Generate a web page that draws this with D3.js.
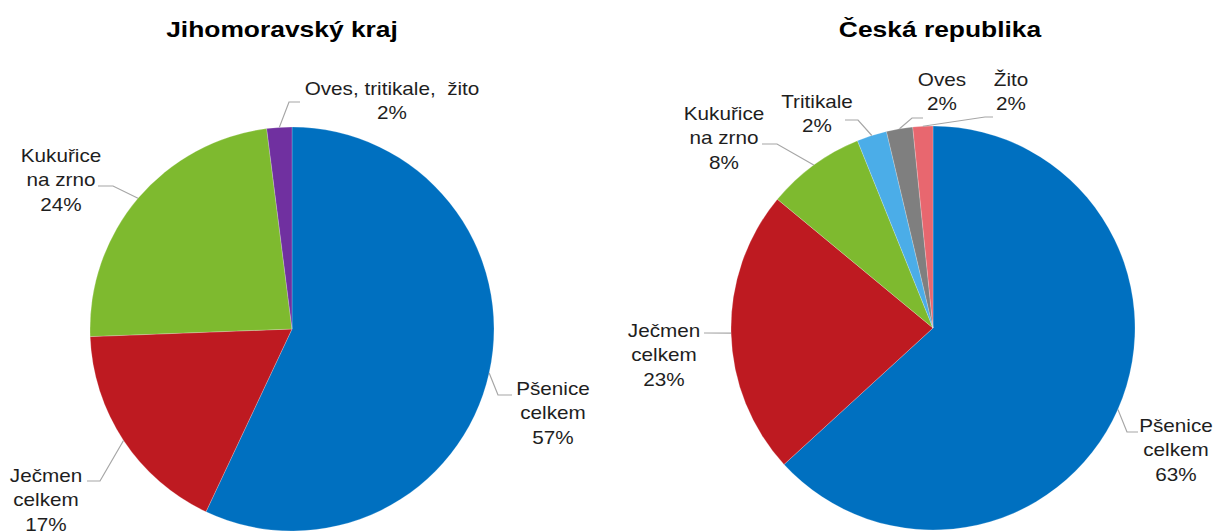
<!DOCTYPE html>
<html>
<head>
<meta charset="utf-8">
<script src="https://cdn.jsdelivr.net/npm/d3@7"></script>
<style>
  html, body { margin: 0; padding: 0; background: #fff; }
  svg { display: block; }
  text { font-family: "Liberation Sans", Arial, sans-serif; }
</style>
</head>
<body>
<svg id="chart" width="1217" height="531"></svg>
<script>
// ---------- DATA ----------
const titles = ["Jihomoravský kraj", "Česká republika"];

const jmkCategories = ["Pšenice celkem", "Ječmen celkem", "Kukuřice na zrno", "Oves, tritikale,  žito"];
const jmkLabelLines = [["Pšenice", "celkem"], ["Ječmen", "celkem"], ["Kukuřice", "na zrno"], ["Oves, tritikale,  žito"]];
const jmkValues = [57.0, 17.4, 23.6, 2.0];
const jmkColors = ["#0070C0", "#BE1A21", "#7EBA2F", "#7030A0"];

const crCategories = ["Pšenice celkem", "Ječmen celkem", "Kukuřice na zrno", "Tritikale", "Oves", "Žito"];
const crLabelLines = [["Pšenice", "celkem"], ["Ječmen", "celkem"], ["Kukuřice", "na zrno"], ["Tritikale"], ["Oves"], ["Žito"]];
const crValues = [63.2, 22.8, 7.9, 2.4, 2.1, 1.6];
const crColors = ["#0070C0", "#BE1A21", "#7EBA2F", "#4BADE8", "#7F7F7F", "#E8676F"];

// ---------- LAYOUT (label placement, relative to pie centre) ----------
// tx,ty: text centre x / first baseline; pts: leader-line bend points after the slice edge
const jmkLayout = [
  { tx: 261, ty: 66,   pts: [[206, 66], [220, 66]] },
  { tx: -246, ty: 153, pts: [[-192, 152], [-205, 152]] },
  { tx: -231, ty: -167, pts: [[-179, -143], [-194, -143]] },
  { tx: 100, ty: -234, pts: [[-3, -227], [8, -227]] }
];
const crLayout = [
  { tx: 243, ty: 104,  pts: [[194, 104], [205, 104]] },
  { tx: -269, ty: 9,   pts: [[-229, 5]] },
  { tx: -209, ty: -208, pts: [[-156, -184], [-171, -184]] },
  { tx: -116, ty: -220, pts: [[-75, -208], [-88, -208]] },
  { tx: 9, ty: -242,   pts: [[-21, -210], [-10, -210]] },
  { tx: 78, ty: -242,  pts: [[52, -211], [60, -211]] }
];

const pies = [
  { title: titles[0], cats: jmkCategories, lines: jmkLabelLines, values: jmkValues, colors: jmkColors, layout: jmkLayout, cx: 292, cy: 329, titleX: 282 },
  { title: titles[1], cats: crCategories, lines: crLabelLines, values: crValues, colors: crColors, layout: crLayout, cx: 933, cy: 328, titleX: 940 }
];

const R = 202;
const labelFont = 18, labelScale = 1.15, lineH = 24.5;
const titleFont = 22, titleScale = 1.2;

const svg = d3.select("#chart");

const pieGen = d3.pie().sort(null).value(d => d).startAngle(0).endAngle(2 * Math.PI);
const arcGen = d3.arc().innerRadius(0).outerRadius(R);

pies.forEach(p => {
  // title
  svg.append("text")
    .attr("transform", `translate(${p.titleX},37) scale(${titleScale},1)`)
    .attr("text-anchor", "middle")
    .attr("font-size", titleFont)
    .attr("font-weight", "bold")
    .attr("fill", "#000")
    .text(p.title);

  const g = svg.append("g").attr("transform", `translate(${p.cx},${p.cy})`);
  const arcs = pieGen(p.values);

  g.selectAll("path.slice")
    .data(arcs)
    .join("path")
    .attr("class", "slice")
    .attr("d", arcGen)
    .attr("fill", (d, i) => p.colors[i])
    .attr("stroke", "rgba(255,255,255,0.35)")
    .attr("stroke-width", 0.6);

  // leader lines
  arcs.forEach((a, i) => {
    const L = p.layout[i];
    const mid = (a.startAngle + a.endAngle) / 2;
    const sx = Math.sin(mid) * R, sy = -Math.cos(mid) * R;
    const pts = [[sx, sy]].concat(L.pts);
    g.append("path")
      .attr("d", d3.line()(pts))
      .attr("fill", "none")
      .attr("stroke", "#A6A6A6")
      .attr("stroke-width", 1.2);
  });

  // labels
  arcs.forEach((a, i) => {
    const L = p.layout[i];
    const textLines = p.lines[i].concat([Math.round(p.values[i]) + "%"]);
    const t = g.append("text")
      .attr("transform", `translate(${L.tx},${L.ty}) scale(${labelScale},1)`)
      .attr("text-anchor", "middle")
      .attr("font-size", labelFont)
      .attr("fill", "#1E1E1E")
      .style("white-space", "pre");
    textLines.forEach((s, k) => {
      t.append("tspan").attr("x", 0).attr("y", k * lineH).text(s);
    });
  });
});
</script>
</body>
</html>
